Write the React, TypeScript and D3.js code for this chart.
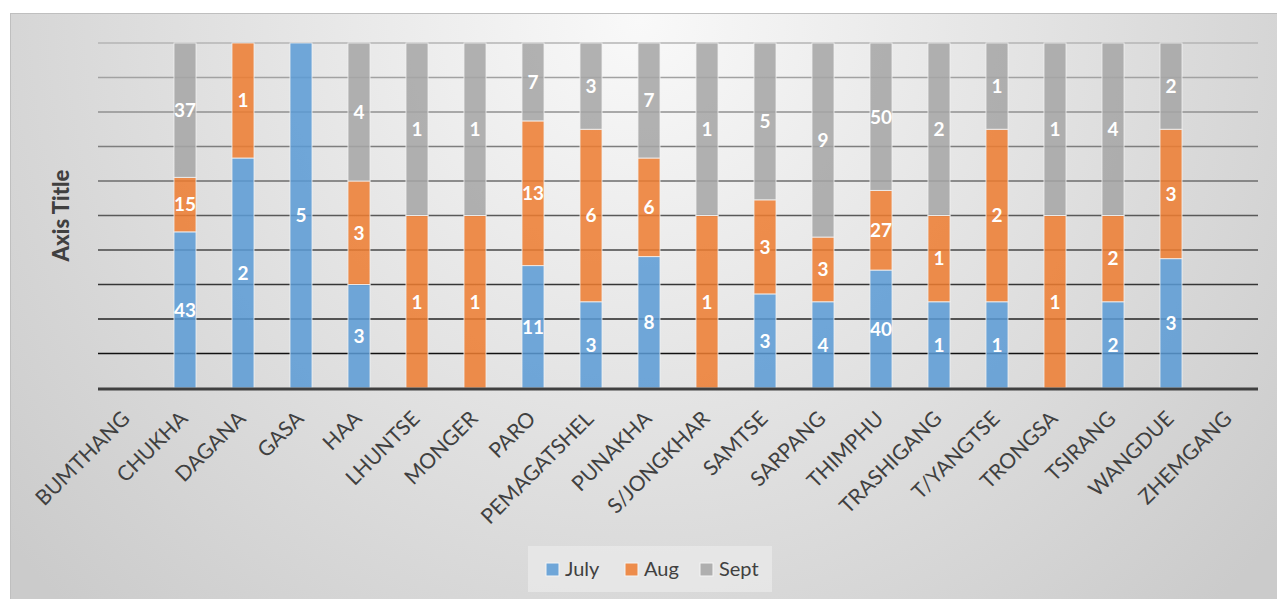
import React, { useEffect, useRef } from "react";
import * as d3 from "d3";

// dzongkhag categories and monthly counts
const categories = [
  "BUMTHANG", "CHUKHA", "DAGANA", "GASA", "HAA", "LHUNTSE", "MONGER", "PARO",
  "PEMAGATSHEL", "PUNAKHA", "S/JONGKHAR", "SAMTSE", "SARPANG", "THIMPHU",
  "TRASHIGANG", "T/YANGTSE", "TRONGSA", "TSIRANG", "WANGDUE", "ZHEMGANG",
];
const july = [0, 43, 2, 5, 3, 0, 0, 11, 3, 8, 0, 3, 4, 40, 1, 1, 0, 2, 3, 0];
const aug = [0, 15, 1, 0, 3, 1, 1, 13, 6, 6, 1, 3, 3, 27, 1, 2, 1, 2, 3, 0];
const sept = [0, 37, 0, 0, 4, 1, 1, 7, 3, 7, 1, 5, 9, 50, 2, 1, 1, 4, 2, 0];
const seriesNames = ["July", "Aug", "Sept"];
const seriesColors = ["#5b9bd5", "#ed7d31", "#a5a5a5"];
const yTicks = d3.range(0, 1.0001, 0.1);

const W = 1277, H = 599;
const FONT = "Lato, 'Noto Sans', sans-serif";

export default function App() {
  const ref = useRef<SVGSVGElement>(null);

  useEffect(() => {
    const svg = d3.select(ref.current);
    svg.selectAll("*").remove();

    const margin = { top: 43, left: 98, right: 19, bottom: 211 };
    const w = W - margin.left - margin.right;
    const h = H - margin.top - margin.bottom;

    const defs = svg.append("defs");
    const bg = defs.append("radialGradient").attr("id", "bg")
      .attr("gradientUnits", "userSpaceOnUse")
      .attr("cx", 640).attr("cy", 20).attr("r", 820);
    bg.append("stop").attr("offset", "0%").attr("stop-color", "#f9f9f9");
    bg.append("stop").attr("offset", "100%").attr("stop-color", "#cbcbcb");

    svg.append("rect").attr("x", 10.5).attr("y", 13.5)
      .attr("width", W).attr("height", H)
      .attr("fill", "url(#bg)").attr("stroke", "#bfbfbf");

    const g = svg.append("g").attr("transform", `translate(${margin.left},${margin.top})`);

    const rows = categories.map((c, i) => ({ cat: c, July: july[i], Aug: aug[i], Sept: sept[i] }));
    const stacked = d3.stack<any>().keys(seriesNames).offset(d3.stackOffsetExpand)(rows);

    const x = d3.scaleBand().domain(categories).range([0, w]).paddingInner(0.62).paddingOuter(0.31);
    const y = d3.scaleLinear().domain([0, 1]).range([h, 0]);
    const gridColor = d3.scaleLinear<string>().domain([1, 0.1]).range(["#b4b4b4", "#111111"]);

    // gridlines
    g.selectAll(".grid").data(yTicks.filter(t => t > 0.05)).join("line")
      .attr("x1", 0).attr("x2", w)
      .attr("y1", d => y(d)).attr("y2", d => y(d))
      .attr("stroke", d => gridColor(d)).attr("stroke-width", 1.6);

    // bars
    stacked.forEach((s, si) => {
      g.selectAll(`.bar${si}`).data(s).join("rect")
        .attr("x", d => x(d.data.cat)!)
        .attr("width", x.bandwidth())
        .attr("y", d => y(d[1]))
        .attr("height", d => Math.max(0, y(d[0]) - y(d[1])))
        .attr("fill", seriesColors[si]).attr("fill-opacity", 0.86)
        .attr("stroke", "#f4f4f4").attr("stroke-opacity", 0.8).attr("stroke-width", 1);
    });

    // data labels
    stacked.forEach((s, si) => {
      const vals = [july, aug, sept][si];
      g.selectAll(`.lab${si}`).data(s.filter((d, i) => vals[i] > 0)).join("text")
        .attr("x", d => x(d.data.cat)! + x.bandwidth() / 2)
        .attr("y", d => (y(d[0]) + y(d[1])) / 2)
        .attr("dy", "0.36em")
        .attr("text-anchor", "middle")
        .attr("fill", "#fff").attr("font-weight", "bold")
        .attr("font-family", FONT).attr("font-size", 19)
        .text(d => d.data[seriesNames[si]]);
    });

    // baseline axis
    g.append("line").attr("x1", 0).attr("x2", w).attr("y1", h + 1).attr("y2", h + 1)
      .attr("stroke", "#404040").attr("stroke-width", 3);

    // category labels
    g.selectAll(".cat").data(categories).join("text")
      .attr("transform", d => `translate(${x(d)! + x.bandwidth() / 2 + 4},${h + 32}) rotate(-45)`)
      .attr("text-anchor", "end")
      .attr("fill", "#404040").attr("font-family", FONT).attr("font-size", 21)
      .text(d => d);

    // axis title
    svg.append("text")
      .attr("transform", `translate(69,${margin.top + h / 2}) rotate(-90)`)
      .attr("text-anchor", "middle")
      .attr("fill", "#404040").attr("font-weight", 900)
      .attr("font-family", FONT).attr("font-size", 22)
      .text("Axis Title");

    // legend
    const lg = svg.append("g");
    lg.append("rect").attr("x", 528).attr("y", 546).attr("width", 244).attr("height", 46)
      .attr("fill", "#ebebeb").attr("fill-opacity", 0.7);
    const lx = [546, 625, 700];
    seriesNames.forEach((n, i) => {
      lg.append("rect").attr("x", lx[i]).attr("y", 563).attr("width", 13).attr("height", 13)
        .attr("fill", seriesColors[i]).attr("fill-opacity", 0.86)
        .attr("stroke", "#f4f4f4").attr("stroke-width", 1);
      lg.append("text").attr("x", lx[i] + 19).attr("y", 576)
        .attr("fill", "#404040").attr("font-family", FONT).attr("font-size", 20)
        .text(n);
    });
  }, []);

  return (
    <svg ref={ref} width={W} height={H}
      style={{ position: "absolute", left: 0, top: 0 }} />
  );
}
